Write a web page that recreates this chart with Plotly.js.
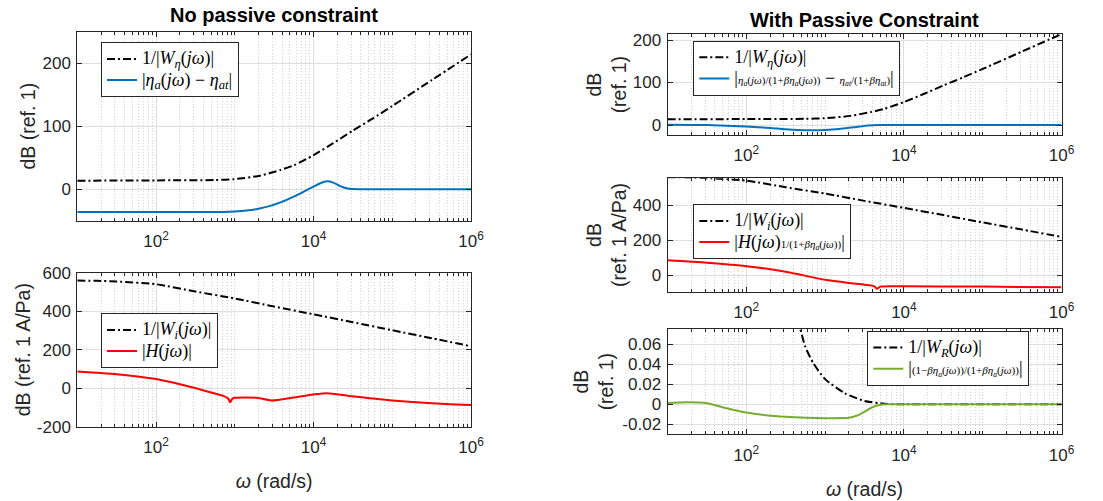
<!DOCTYPE html>
<html>
<head>
<meta charset="utf-8">
<script src="https://cdn.plot.ly/plotly-3.0.1.min.js"></script>
<style>html,body{margin:0;padding:0;background:#fff;}#chart{width:1103px;height:501px;}</style>
</head>
<body>
<div id="chart"></div>
<script>
// ---------- DATA (frequencies given as log10(ω) exponents, values in dB) ----------
// 1/|W_eta(jω)|  (same weighting in both "eta" panels)
const wEtaExp = [1, 2, 2.75, 3, 3.32, 3.58, 3.75, 4, 4.25, 4.5, 4.75, 5, 5.5, 6];
const wEtaDb  = [13.5, 14, 14.5, 16, 21.5, 30.5, 38, 54, 73, 93, 112, 132, 173, 214];

// |eta_a(jω) - eta_at|  (no passive constraint)
const etaNoExp = [1, 2, 2.5, 2.855, 3.0, 3.15, 3.3, 3.45, 3.58, 3.7, 3.83, 3.92, 4.0, 4.08, 4.17, 4.25, 4.34, 4.42, 4.5, 4.6, 5, 6];
const etaNoDb  = [-36.3, -36.3, -36.2, -36, -35.3, -33.8, -31, -26.5, -21, -14.5, -7, -1, 4, 9, 12.5, 10.5, 5, 1.5, 0.2, 0, 0, 0];

// 1/|W_i(jω)|
const wIExp = [1, 1.25, 1.5, 2, 2.5, 3, 3.5, 4, 4.5, 5, 5.5, 6];
const wIDb  = [559, 558, 554, 540, 502, 466, 424, 384, 343, 301, 260, 218];

// |H(jω)|  (no passive constraint)
const hNoExp = [1, 1.5, 2, 2.43, 2.7, 2.855, 2.92, 2.94, 2.97, 3.0, 3.28, 3.47, 3.75, 4.0, 4.17, 4.45, 4.72, 5, 5.5, 6];
const hNoDb  = [87, 73, 48, 8, -22, -40, -55, -73, -54, -50, -50, -64, -48, -33, -26, -40, -52, -64, -78, -87];

// |eta_a/(1+β eta_a) - eta_at/(1+β eta_at)|  (with passive constraint)
const etaPcExp = [1, 1.5, 2, 2.3, 2.5, 2.8, 3, 3.2, 3.4, 3.55, 3.7, 4, 6];
const etaPcDb  = [0.8, 0, -3.5, -7, -10, -12.5, -12, -9, -4.5, -1, 0, 0, 0];

// |H(jω) 1/(1+β eta_a(jω))|  (with passive constraint)
const hPcExp = [1, 1.5, 2, 2.5, 3, 3.3, 3.5, 3.62, 3.66, 3.7, 4, 5, 6];
const hPcDb  = [84, 70, 51, 19, -27, -45, -55, -63, -78, -66, -64, -66, -70];

// 1/|W_R(jω)|
const wRExp = [2.6, 2.685, 2.75, 2.85, 3, 3.25, 3.5, 3.75, 3.9, 4, 6];
const wRDb  = [0.1, 0.075, 0.057, 0.041, 0.025, 0.011, 0.0033, 0.0005, 0, 0, 0];

// |(1-β eta_a)/(1+β eta_a)|
const rExp = [1, 1.25, 1.5, 1.75, 2, 2.25, 2.5, 2.75, 3, 3.3, 3.4, 3.5, 3.6, 3.7, 3.8, 4, 6];
const rDb  = [0.0013, 0.002, 0.001, -0.004, -0.0083, -0.011, -0.0126, -0.0135, -0.0139, -0.0135, -0.0115, -0.0075, -0.003, -0.0005, 0, 0, 0];

// tick labels
const xTickVals = [100, 10000, 1000000];
const xTickText = ['10<sup>2</sup>', '10<sup>4</sup>', '10<sup>6</sup>'];
const yTicksA = [0, 100, 200];
const yTicksB = [-200, 0, 200, 400, 600];
const yTicksC = [0, 100, 200];
const yTicksD = [0, 200, 400];
const yTicksE = [-0.02, 0, 0.02, 0.04, 0.06];
const yTextE  = ['-0.02', '0', '0.02', '0.04', '0.06'];

// ---------- helpers ----------
const toW = e => e.map(v => Math.pow(10, v));
const BLUE = '#0072BD', RED = '#FF0000', GREEN = '#77AC30', BLACK = '#000000';
const DD = '8px,3px,2px,3px';
const AX = '#262626';
const SANS = 'Liberation Sans, Arial, sans-serif';

const minorVals = [];
for (let k = 1; k <= 5; k++) for (let m = 1; m <= 9; m++) {
  const v = m * Math.pow(10, k);
  if (v !== 100 && v !== 10000) minorVals.push(v);
}

function tr(xe, y, name, color, dash, xa, ya, leg) {
  return {x: toW(xe), y: y, name: name, type: 'scatter', mode: 'lines',
    line: {color: color, width: 2, dash: dash || 'solid', shape: 'spline', smoothing: 0.6},
    xaxis: xa, yaxis: ya, legend: leg, hoverinfo: 'skip'};
}

const big = s => '<span style="font-size:18px">' + s + '</span>';
const sm = s => '<span style="font-size:11px">' + s + '</span>';
const L_Weta = big('1/|<i>W</i><sub><i>η</i></sub>(<i>jω</i>)|');
const L_Wi = big('1/|<i>W</i><sub><i>i</i></sub>(<i>jω</i>)|');
const L_WR = big('1/|<i>W</i><sub><i>R</i></sub>(<i>jω</i>)|');
const L_etaNo = big('|<i>η</i><sub><i>a</i></sub>(<i>jω</i>) − <i>η</i><sub><i>at</i></sub>|');
const L_H = big('|<i>H</i>(<i>jω</i>)|');
const L_etaPc = big('|') + sm('<i>η<sub>a</sub></i>(<i>jω</i>)/(1+<i>βη<sub>a</sub></i>(<i>jω</i>))') + big(' − ') + sm('<i>η<sub>at</sub></i>/(1+<i>βη<sub>at</sub></i>)') + big('|');
const L_HPc = big('|<i>H</i>(<i>jω</i>)') + sm('1/(1+<i>βη<sub>a</sub></i>(<i>jω</i>))') + big('|');
const L_R = big('|') + sm('(1−<i>βη<sub>a</sub></i>(<i>jω</i>))/(1+<i>βη<sub>a</sub></i>(<i>jω</i>))') + big('|');

const data = [
  tr(wEtaExp, wEtaDb, L_Weta, BLACK, DD, 'x', 'y', 'legend'),
  tr(etaNoExp, etaNoDb, L_etaNo, BLUE, null, 'x', 'y', 'legend'),
  tr(wIExp, wIDb, L_Wi, BLACK, DD, 'x2', 'y2', 'legend2'),
  tr(hNoExp, hNoDb, L_H, RED, null, 'x2', 'y2', 'legend2'),
  tr(wEtaExp, wEtaDb, L_Weta, BLACK, DD, 'x3', 'y3', 'legend3'),
  tr(etaPcExp, etaPcDb, L_etaPc, BLUE, null, 'x3', 'y3', 'legend3'),
  tr(wIExp, wIDb, L_Wi, BLACK, DD, 'x4', 'y4', 'legend4'),
  tr(hPcExp, hPcDb, L_HPc, RED, null, 'x4', 'y4', 'legend4'),
  tr(wRExp, wRDb, L_WR, BLACK, DD, 'x5', 'y5', 'legend5'),
  tr(rExp, rDb, L_R, GREEN, null, 'x5', 'y5', 'legend5')
];

const W = 1103, H = 501;
const TF = {family: SANS, size: 17, color: AX};
const LF = {family: SANS, size: 19.5, color: AX};

function xax(x0, x1, anchor, title) {
  const a = {type: 'log', range: [1, 6], domain: [x0 / W, x1 / W], anchor: anchor,
    tickmode: 'array', tickvals: xTickVals, ticktext: xTickText,
    ticks: 'inside', ticklen: 5, tickcolor: AX, tickfont: TF, ticklabelstandoff: 5,
    showline: true, linecolor: AX, linewidth: 1, mirror: 'allticks',
    showgrid: true, gridcolor: '#dedede', gridwidth: 1, zeroline: false,
    minor: {tickmode: 'array', tickvals: minorVals, ticks: 'inside', ticklen: 3, tickcolor: AX,
      showgrid: true, gridcolor: '#d4d4d4', gridwidth: 1, griddash: '1px,2px'},
    automargin: false, fixedrange: true};
  if (title) a.title = {text: title, font: LF, standoff: 18};
  return a;
}
function yax(top, bot, anchor, range, tv, tt, title, standoff) {
  return {range: range, domain: [(H - bot) / H, (H - top) / H], anchor: anchor,
    tickmode: 'array', tickvals: tv, ticktext: tt || tv.map(String),
    ticks: 'inside', ticklen: 5, tickcolor: AX, tickfont: TF, ticklabelstandoff: 2,
    showline: true, linecolor: AX, linewidth: 1, mirror: 'allticks',
    showgrid: true, gridcolor: '#dedede', gridwidth: 1, zeroline: false,
    title: {text: title, font: LF, standoff: standoff},
    automargin: false, fixedrange: true};
}
function leg(xp, yp, xanchor) {
  return {x: xp / W, y: 1 - yp / H, xanchor: xanchor || 'left', yanchor: 'top', xref: 'paper', yref: 'paper',
    bgcolor: '#ffffff', bordercolor: AX, borderwidth: 1,
    font: {family: 'Liberation Serif, DejaVu Serif, serif', size: 14, color: '#000'},
    itemwidth: 30, tracegroupgap: 0, itemclick: false, itemdoubleclick: false};
}

const layout = {
  width: W, height: H, margin: {l: 0, r: 0, t: 0, b: 0},
  paper_bgcolor: '#fff', plot_bgcolor: '#fff', showlegend: true,
  xaxis: xax(77.3, 471, 'y'),
  yaxis: yax(31.7, 220.7, 'x', [-50, 250], yTicksA, null, 'dB (ref. 1)', 1),
  xaxis2: xax(77.3, 471, 'y2', '<i>ω</i> (rad/s)'),
  yaxis2: yax(272.7, 426.7, 'x2', [-200, 600], yTicksB, null, 'dB (ref. 1 A/Pa)', 1),
  xaxis3: xax(667.5, 1061.5, 'y3'),
  yaxis3: yax(34.3, 135, 'x3', [-23.5, 213.5], yTicksC, null, 'dB<br>(ref. 1)', 0),
  xaxis4: xax(667.5, 1061.5, 'y4'),
  yaxis4: yax(178.3, 291.7, 'x4', [-95, 553], yTicksD, null, 'dB<br>(ref. 1 A/Pa)', 0),
  xaxis5: xax(667.5, 1061.5, 'y5', '<i>ω</i> (rad/s)'),
  yaxis5: yax(329, 434.3, 'x5', [-0.03, 0.075], yTicksE, yTextE, 'dB<br>(ref. 1)', 3),
  legend: leg(101, 42.3),
  legend2: leg(101, 313.3),
  legend3: leg(693.3, 40.7),
  legend4: leg(693.3, 204.3),
  legend5: leg(1029.3, 331, 'right'),
  annotations: [
    {text: '<b>No passive constraint</b>', x: 274 / W, y: 1 - 15 / H, xref: 'paper', yref: 'paper',
      showarrow: false, xanchor: 'center', yanchor: 'middle', font: {family: SANS, size: 20, color: '#000'}},
    {text: '<b>With Passive Constraint</b>', x: 864 / W, y: 1 - 20 / H, xref: 'paper', yref: 'paper',
      showarrow: false, xanchor: 'center', yanchor: 'middle', font: {family: SANS, size: 20, color: '#000'}}
  ]
};

Plotly.newPlot('chart', data, layout, {staticPlot: true, displayModeBar: false});
</script>
</body>
</html>
